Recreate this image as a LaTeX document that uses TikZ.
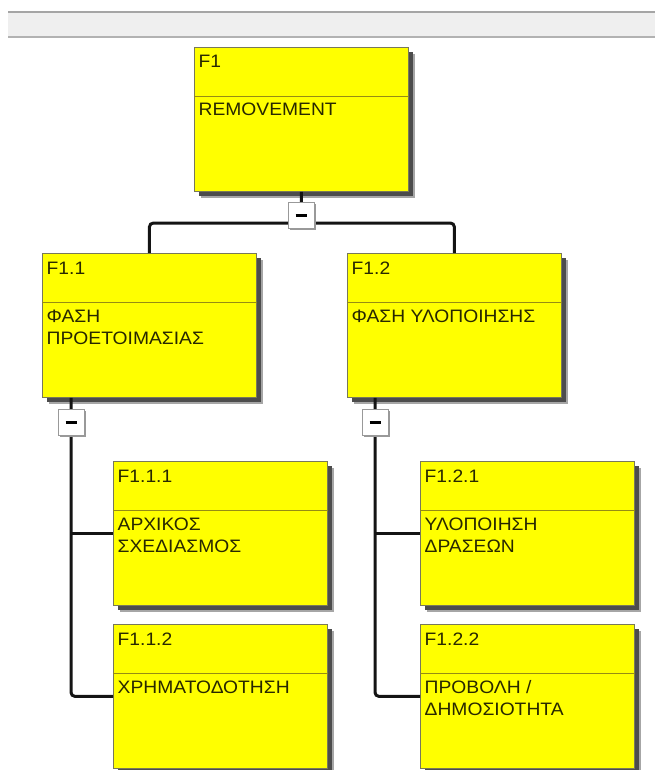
\documentclass[tikz,border=0pt]{standalone}
\usepackage{fontspec}
\setmainfont{Liberation Sans}[FakeStretch=1.07]
\usetikzlibrary{calc,shadows}

\definecolor{boxfill}{RGB}{255,255,0}
\definecolor{boxline}{RGB}{120,120,90}
\definecolor{divline}{RGB}{150,140,20}
\definecolor{labeltext}{RGB}{40,40,0}
\definecolor{barfill}{RGB}{239,239,239}
\definecolor{barline}{RGB}{165,165,165}
\definecolor{connline}{RGB}{20,20,20}

\tikzset{
  wbsbox/.style={draw=boxline, line width=0.8pt, fill=boxfill,
    minimum width=214pt, minimum height=144pt, inner sep=0pt,
    anchor=north west,
    drop shadow={shadow xshift=6.5pt, shadow yshift=-6.5pt, fill=black!35, opacity=1},
    drop shadow={shadow xshift=4.5pt, shadow yshift=-4.5pt, fill=black!70, opacity=1}},
  divider/.style={draw=divline, line width=0.9pt},
  idtext/.style={anchor=base west, inner sep=0pt, text=labeltext,
    font=\fontsize{18}{22}\selectfont},
  bodytext/.style={anchor=base west, inner sep=0pt, text=labeltext,
    font=\fontsize{18}{22.5}\selectfont},
  toggle/.style={draw=black!40, line width=0.8pt, fill=white,
    minimum width=26pt, minimum height=26pt, inner sep=0pt,
    drop shadow={shadow xshift=2pt, shadow yshift=-2pt, fill=black!40, opacity=1}},
  conn/.style={draw=connline, line width=3pt, rounded corners=4pt},
  minusbar/.style={draw=black, line width=3pt}
}

% one work-package box: name, x, y (top-left), id, description lines
\newcommand\wbsnode[5]{%
  \node[wbsbox] (#1) at (#2,#3) {};
  \draw[divider] ($(#1.north west)+(0,49)$) -- ($(#1.north east)+(0,49)$);
  \node[idtext] (#1-id) at ($(#1.north west)+(4.5,21)$) {#4};
  \node[bodytext] (#1-txt) at ($(#1.north west)+(4.5,69)$)
    {\begin{tabular}[t]{@{}l@{}}#5\end{tabular}};
}
% collapse toggle with its minus sign
\newcommand\togglenode[3]{%
  \node[toggle] (#1) at (#2,#3) {};
  \draw[minusbar] ($(#1.center)+(-5.5,0)$) -- ($(#1.center)+(5.5,0)$);
}

\begin{document}
\begin{tikzpicture}[x=1pt, y=-1pt]
  \useasboundingbox (0,0) rectangle (655,770);

  % window strip along the top
  \fill[barfill] (8,12) rectangle (655,37);
  \draw[barline, line width=1.5pt] (8,12) -- (655,12);
  \draw[barline!85, line width=2pt] (8,37) -- (655,37);

  % boxes
  \wbsnode{f1}{194}{47}{F1}{REMOVEMENT}
  \wbsnode{f11}{42}{253}{F1.1}{ΦΑΣΗ\\ΠΡΟΕΤΟΙΜΑΣΙΑΣ}
  \wbsnode{f12}{347}{253}{F1.2}{ΦΑΣΗ ΥΛΟΠΟΙΗΣΗΣ}
  \wbsnode{f111}{113}{461}{F1.1.1}{ΑΡΧΙΚΟΣ\\ΣΧΕΔΙΑΣΜΟΣ}
  \wbsnode{f112}{113}{624}{F1.1.2}{ΧΡΗΜΑΤΟΔΟΤΗΣΗ}
  \wbsnode{f121}{420}{461}{F1.2.1}{ΥΛΟΠΟΙΗΣΗ\\ΔΡΑΣΕΩΝ}
  \wbsnode{f122}{420}{624}{F1.2.2}{ΠΡΟΒΟΛΗ /\\ΔΗΜΟΣΙΟΤΗΤΑ}

  % junction points of the connectors
  \coordinate (j1) at (301,223);
  \coordinate (j11) at (71,422);
  \coordinate (j12) at (375,422);

  % connectors
  \draw[conn] (f1.south) -- (j1);
  \draw[conn] (f11.north) |- (j1) -| (f12.north);
  \draw[conn] (f11.south -| j11) -- (j11) |- (f112.west);
  \draw[conn] (j11 |- f111.west) -- (f111.west);
  \draw[conn] (f12.south -| j12) -- (j12) |- (f122.west);
  \draw[conn] (j12 |- f121.west) -- (f121.west);

  % collapse toggles on top of the connectors
  \togglenode{m1}{301}{215}
  \togglenode{m11}{71}{422}
  \togglenode{m12}{375}{422}
\end{tikzpicture}
\end{document}
